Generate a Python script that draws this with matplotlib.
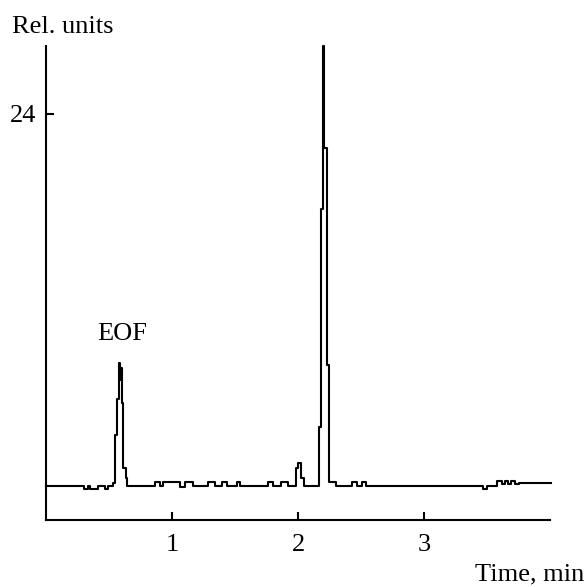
import matplotlib
matplotlib.use("Agg")
import matplotlib.pyplot as plt

# Step breakpoints of the electropherogram (time in min, signal in rel. units)
time_min = [
    0.000, 0.302, 0.333, 0.347, 0.410, 0.426, 0.466, 0.490,
    0.532, 0.545, 0.563, 0.575, 0.583, 0.589, 0.598, 0.611, 0.633, 0.643,
    0.864, 0.904, 0.926, 1.061, 1.101, 1.164, 1.283, 1.339, 1.394, 1.434,
    1.513, 1.537, 1.759, 1.799, 1.863, 1.918,
    1.982, 1.995, 2.019, 2.045,
    2.167, 2.180, 2.194, 2.206, 2.225, 2.246, 2.299,
    2.427, 2.467, 2.506, 2.538,
    3.466, 3.497, 3.578, 3.617, 3.641, 3.665, 3.688, 3.720, 3.752, 4.006,
]
signal = [
    2.00, 1.85, 2.00, 1.85, 2.00, 2.00, 1.85, 2.00,
    2.18, 5.00, 7.13, 9.26, 8.30, 9.00, 6.90, 3.07, 2.48, 2.00,
    2.25, 2.00, 2.25, 1.95, 2.25, 2.00, 2.25, 2.00, 2.25, 2.00,
    2.25, 2.00, 2.25, 2.00, 2.25, 2.00,
    3.07, 3.35, 2.48, 2.00,
    5.50, 18.40, 28.00, 22.00, 9.15, 2.26, 2.00,
    2.25, 2.00, 2.25, 2.00,
    1.85, 2.00, 2.30, 2.10, 2.30, 2.10, 2.30, 2.10, 2.20, 2.20,
]

x_ticks = [1, 2, 3]
x_tick_labels = ["1", "2", "3"]
y_ticks = [24]
y_tick_labels = ["24"]

plt.rcParams["font.family"] = ["Liberation Serif", "DejaVu Serif"]
FS = 19

fig = plt.figure(figsize=(5.87, 5.87), dpi=100)
ax = fig.add_axes([0.0789, 0.1141, 0.9375 - 0.0789, 0.9216 - 0.1141])

ax.plot(time_min, signal, drawstyle="steps-post", color="black", lw=1.5,
        clip_on=False)

ax.set_xlim(0, 4.0)
ax.set_ylim(0, 28)

for s in ["top", "right"]:
    ax.spines[s].set_visible(False)
for s in ["left", "bottom"]:
    ax.spines[s].set_linewidth(1.5)

ax.set_xticks(x_ticks)
ax.set_xticklabels(x_tick_labels)
ax.set_yticks(y_ticks)
ax.set_yticklabels(y_tick_labels)
ax.tick_params(axis="both", direction="in", length=6, width=1.5,
               labelsize=FS, colors="black")
ax.tick_params(axis="x", pad=10)
ax.tick_params(axis="y", pad=7)

ax.text(0.601, 10.99, "EOF", fontsize=FS, ha="center", va="center")

fig.text(12 / 587, (587 - 33) / 587, "Rel. units", fontsize=FS,
         ha="left", va="baseline")
fig.text(584 / 587, (587 - 580) / 587, "Time, min", fontsize=FS,
         ha="right", va="baseline")

fig.savefig("out.png", dpi=100)
